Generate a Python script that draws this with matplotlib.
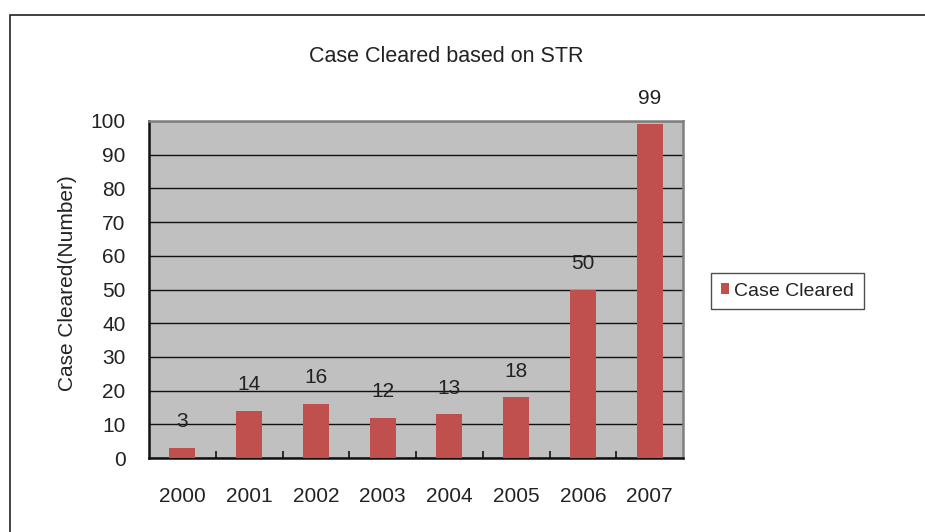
import matplotlib.pyplot as plt
from matplotlib.patches import Rectangle

# Данные
years = ['2000', '2001', '2002', '2003', '2004', '2005', '2006', '2007']
cleared = [3, 14, 16, 12, 13, 18, 50, 99]
y_ticks = [0, 10, 20, 30, 40, 50, 60, 70, 80, 90, 100]

plt.rcParams['font.family'] = ['Liberation Sans', 'DejaVu Sans']
fs = 15
txt = '#222222'

W, H = 925, 532
fig = plt.figure(figsize=(W / 100, H / 100), dpi=100)

# рамка вокруг диаграммы
fig.add_artist(Rectangle((10 / W, -0.1), 1.2, 1 - 15 / H + 0.1, transform=fig.transFigure,
                         fill=False, edgecolor='#222222', linewidth=1.2))

left, right, top, bottom = 149, 683, 121, 458
ax = fig.add_axes([left / W, 1 - bottom / H, (right - left) / W, (bottom - top) / H])
ax.set_facecolor('#C0C0C0')

x = range(len(years))
ax.bar(x, cleared, width=0.39, color='#C0504D', zorder=3, label='Case Cleared')
for i, v in enumerate(cleared):
    ax.annotate(str(v), (i, v), xytext=(0, 12), textcoords='offset points',
                ha='center', va='bottom', fontsize=fs, color=txt)

ax.set_xlim(-0.5, len(years) - 0.5)
ax.set_ylim(0, 100)
ax.set_yticks(y_ticks)
ax.yaxis.grid(True, color='#111111', linewidth=1.0, zorder=1)
ax.set_axisbelow(True)
ax.tick_params(axis='y', length=0, pad=17, labelsize=fs, labelcolor=txt)
ax.set_xticks(list(x))
ax.set_xticklabels(years)
ax.tick_params(axis='x', length=0, pad=21, labelsize=fs, labelcolor=txt)
ax.set_xticks([i + 0.5 for i in range(len(years) - 1)], minor=True)
ax.tick_params(axis='x', which='minor', direction='in', length=5, width=1.2, color='#111111')

for s in ['left', 'bottom']:
    ax.spines[s].set_color('#111111')
    ax.spines[s].set_linewidth(1.8)
for s in ['top', 'right']:
    ax.spines[s].set_color('#808080')
    ax.spines[s].set_linewidth(1.8)

ax.set_ylabel('Case Cleared(Number)', fontsize=fs, color=txt)
ax.yaxis.set_label_coords(-0.135, 0.52)
fig.text(446 / W, 1 - 57 / H, 'Case Cleared based on STR', ha='center', va='center',
         fontsize=15.5, color=txt)

leg = ax.legend(loc='center left', bbox_to_anchor=(711 / W, 1 - 291 / H), bbox_transform=fig.transFigure,
                borderaxespad=0, fontsize=14, frameon=True, fancybox=False, handlelength=0.45,
                handleheight=0.45, handletextpad=0.25, borderpad=0.5, labelcolor=txt)
leg.get_frame().set_edgecolor('#222222')
leg.get_frame().set_linewidth(1.0)

fig.savefig('out.png', dpi=100)
